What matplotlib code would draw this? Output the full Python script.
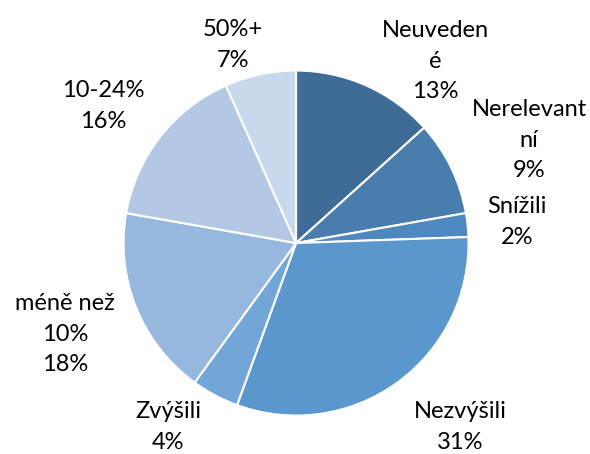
import numpy as np
import matplotlib
matplotlib.use('Agg')
import matplotlib.pyplot as plt

# slices clockwise from 12 o'clock (counts of answers, n = 45)
categories = ['Neuveden\né', 'Nerelevant\nní', 'Snížili', 'Nezvýšili', 'Zvýšili',
              'méně než\n10%', '10-24%', '50%+']
counts = [6, 4, 1, 14, 2, 8, 7, 3]
colors = ['#3f6c96', '#487dad', '#4f88c0', '#5997cd', '#72a6d7',
          '#97b8de', '#b2c8e4', '#c8d8ed']

# label anchors (data units, radius = 1)
label_pos = [(0.806, 1.055), (1.351, 0.597), (1.281, 0.122), (0.951, -1.067),
             (-0.742, -1.067), (-1.339, -0.528), (-1.119, 0.794), (-0.365, 1.148)]

plt.rcParams['font.family'] = ['Lato', 'DejaVu Sans']

fig = plt.figure(figsize=(5.9, 4.54), dpi=100)
ax = fig.add_axes([0, 0, 1, 1])

ax.pie(counts, colors=colors, startangle=90, counterclock=False,
       wedgeprops=dict(edgecolor='white', linewidth=1.5))

total = float(sum(counts))
for name, val, (x, y) in zip(categories, counts, label_pos):
    ax.text(x, y, '%s\n%.0f%%' % (name, val / total * 100), ha='center', va='center',
            fontsize=17, color='black', linespacing=1.55)

ax.set_xlim(-1.716, 1.704)
ax.set_ylim(-1.223, 1.409)
ax.set_aspect('equal')
ax.axis('off')

fig.savefig('out.png', dpi=100)
